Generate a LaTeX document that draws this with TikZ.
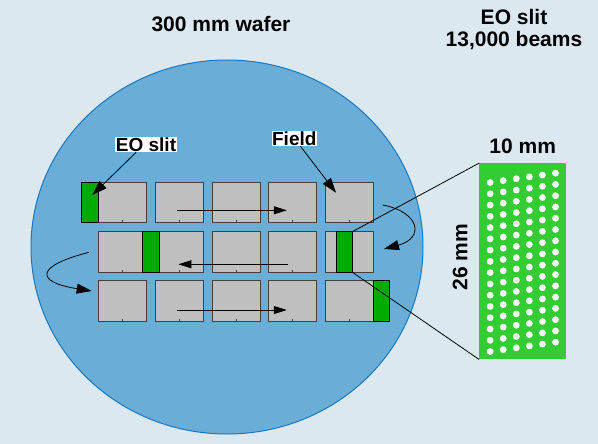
\documentclass[tikz,border=0pt]{standalone}
\usepackage{fontspec}
\setmainfont{Liberation Sans}
\usetikzlibrary{shapes,arrows.meta,positioning,calc}
\definecolor{bgblue}{RGB}{220,232,240}
\definecolor{waferblue}{RGB}{106,174,216}
\definecolor{waferedge}{RGB}{20,120,195}
\definecolor{slitgreen}{RGB}{0,170,0}
\definecolor{beamgreen}{RGB}{51,204,51}
\tikzstyle{field}=[rectangle,draw=black!75,fill=black!25,line width=0.8pt,inner sep=0pt,minimum width=48pt,minimum height=40.5pt]
\tikzstyle{slitbar}=[rectangle,draw=black,fill=slitgreen,line width=0.8pt,inner sep=0pt,minimum width=16.5pt,minimum height=40.5pt]
\tikzstyle{tag}=[fill=white,inner sep=0.6pt,font=\fontsize{19}{21}\selectfont\bfseries]
\tikzstyle{title}=[align=center,inner sep=0pt,font=\fontsize{21}{22}\selectfont\bfseries]
\tikzstyle{scan}=[-{Triangle[length=13pt,width=8pt]},line width=0.8pt]
\tikzstyle{hop}=[-{Triangle[length=15pt,width=10pt]},line width=0.8pt]
\tikzstyle{zoomline}=[line width=0.8pt]

\begin{document}
\begin{tikzpicture}[x=1pt,y=-1pt]
\fill[bgblue] (0,0) rectangle (598,444);
\useasboundingbox (0,0) rectangle (598,444);
\draw[fill=waferblue,draw=waferedge,line width=1pt] (227,247) ellipse [x radius=196pt,y radius=187pt];
\node[title] (wafertitle) at (221,24) {300 mm wafer};
\node[title] (slittitle) at (514,29.5) {EO slit\\13,000 beams};
\foreach \c/\x in {1/122.7,2/179.4,3/236.1,4/292.8,5/349.5}{
  \foreach \r/\y in {1/202.3,2/252,3/300.8}{
    \node[field] (f\r\c) at (\x,\y) {};
    \draw[line width=0.8pt,black!75] (f\r\c.south) -- ++(0,-2.5);
  }
}
\node[slitbar,left=0pt of f11] (s1) {};
\node[slitbar] (s2) at ($(f21.east)!0.5!(f22.west)$) {};
\node[slitbar] (s3) at ($(f25)+(-5.2,0)$) {};
\node[slitbar,right=-1pt of f35] (s4) {};
\coordinate (r1a) at ($(f12)+(-2,8)$);
\coordinate (r1b) at ($(f14)+(-6,8)$);
\coordinate (r2a) at ($(f24)+(-4.5,12.3)$);
\coordinate (r2b) at ($(f22)+(-1,12.3)$);
\coordinate (r3a) at ($(f32)+(-2,9.2)$);
\coordinate (r3b) at ($(f34)+(-6,9.2)$);
\coordinate (t1a) at ($(f15)+(33.2,2.7)$);
\coordinate (t1b) at ($(f25)+(34.5,-3)$);
\coordinate (t2a) at ($(f21)+(-33.7,0.3)$);
\coordinate (t2b) at ($(f31)+(-31,-9.8)$);
\draw[scan] (r1a) -- (r1b);
\draw[scan] (r2a) -- (r2b);
\draw[scan] (r3a) -- (r3b);
\draw[hop] (t1a) .. controls +(37,7) and +(41,-11) .. (t1b);
\draw[hop] (t2a) .. controls +(-54,13.7) and +(-56.7,-9) .. (t2b);
\node[tag] (eolab) at (146,144.7) {EO slit};
\node[tag] (fieldlab) at (294.3,138.3) {Field};
\coordinate (eotip) at ($(s1)+(2.6,-7.3)$);
\coordinate (fieldtip) at ($(f15)+(-13.5,-9.6)$);
\draw[hop] ([xshift=-10pt]eolab.south) -- (eotip);
\draw[hop] ([xshift=6pt]fieldlab.south) -- (fieldtip);
\node[rectangle,fill=beamgreen,inner sep=0pt,minimum width=86.7pt,minimum height=196pt] (big) at (522.7,261.3) {};
\foreach \c in {0,...,5}
  \foreach \r in {0,...,15}
    \fill[white] ($(big.north west)+(11+13.07*\c,19.4+11.27*\r-1.87*\c)$) circle (3.4pt);
\draw[zoomline] (s3.north east) -- (big.north west);
\draw[zoomline] (s3.south east) -- (big.south west);
\node[title,above=9pt of big] (widthlab) {10 mm};
\node[title,rotate=90] (heightlab) at ($(big.west)+(-19,-4)$) {26 mm};
\end{tikzpicture}
\end{document}
